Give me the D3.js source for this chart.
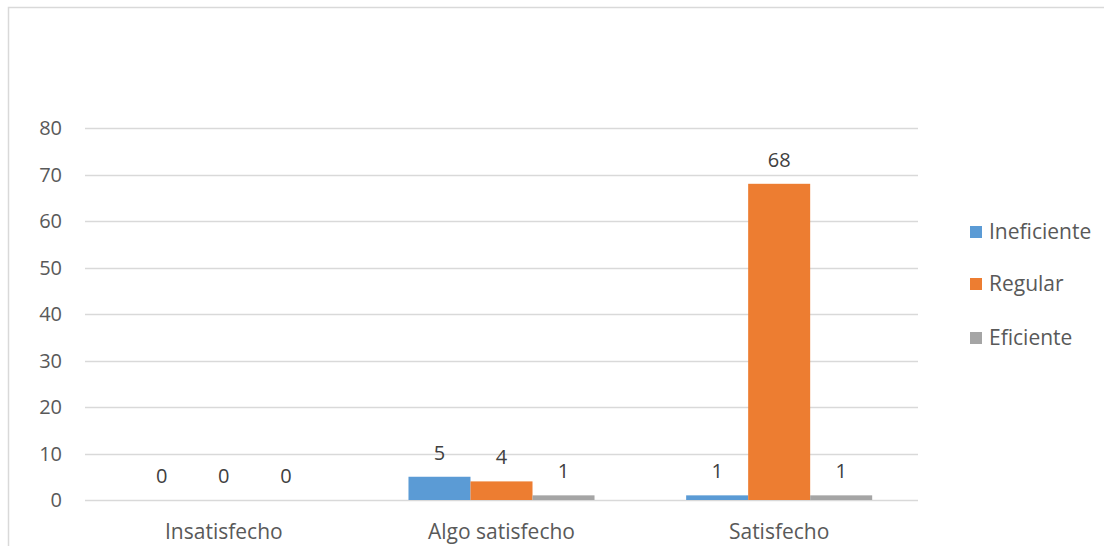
<!DOCTYPE html>
<html><head><meta charset="utf-8">
<script src="https://cdn.jsdelivr.net/npm/d3@7"></script>
<style>body{margin:0;background:#fff}svg{display:block}text{font-family:"Open Sans","Liberation Sans",sans-serif}</style>
</head><body>
<script>
const categories = ["Insatisfecho", "Algo satisfecho", "Satisfecho"];
const seriesNames = ["Ineficiente", "Regular", "Eficiente"];
const ineficiente = [0, 5, 1];
const regular = [0, 4, 68];
const eficiente = [0, 1, 1];
const yTicks = [0, 10, 20, 30, 40, 50, 60, 70, 80];
const colors = ["#5b9bd5", "#ed7d31", "#a5a5a5"];

(function () {
const seriesValues = [ineficiente, regular, eficiente];
const W = 1104, H = 546;
const svg = d3.select("body").append("svg").attr("width", W).attr("height", H);

// chart border
svg.append("path").attr("d", `M8.5,${H} V7.5 H${W}`).attr("fill", "none")
  .attr("stroke", "#d9d9d9").attr("stroke-width", 1.5);

const pLeft = 85, pRight = 918, pTop = 128, pBottom = 500;
const y = d3.scaleLinear().domain([0, 80]).range([pBottom, pTop]);
const x0 = d3.scaleBand().domain(categories).range([pLeft, pRight]).padding(0);
const bw = x0.bandwidth();
const x1 = d3.scaleBand().domain(seriesNames).range([bw * 0.165, bw * 0.835]).padding(0);

// gridlines
svg.append("g").selectAll("line").data(yTicks).join("line")
  .attr("x1", pLeft).attr("x2", pRight)
  .attr("y1", d => Math.round(y(d)) + 0.5).attr("y2", d => Math.round(y(d)) + 0.5)
  .attr("stroke", "#d9d9d9").attr("stroke-width", 1.3);

// y tick labels
svg.append("g").selectAll("text").data(yTicks).join("text")
  .attr("x", 62).attr("y", d => y(d)).attr("dy", "0.35em")
  .attr("text-anchor", "end").attr("font-size", 20).attr("fill", "#595959")
  .text(d => d);

// bars
const groups = svg.append("g").selectAll("g").data(categories).join("g")
  .attr("transform", c => `translate(${x0(c)},0)`);
groups.each(function(c, ci) {
  const g = d3.select(this);
  seriesNames.forEach((s, si) => {
    const v = seriesValues[si][ci];
    g.append("rect").attr("x", x1(s)).attr("width", x1.bandwidth())
      .attr("y", y(v)).attr("height", pBottom - y(v)).attr("fill", colors[si]);
    g.append("text").attr("x", x1(s) + x1.bandwidth() / 2).attr("y", y(v) - 17)
      .attr("text-anchor", "middle").attr("font-size", 20).attr("fill", "#404040")
      .text(v);
  });
});

// category labels
svg.append("g").selectAll("text").data(categories).join("text")
  .attr("x", c => x0(c) + bw / 2).attr("y", 532).attr("dy", "0.35em")
  .attr("text-anchor", "middle").attr("font-size", 21).attr("fill", "#595959")
  .text(c => c);

// legend
const legY = [232, 284, 338];
const leg = svg.append("g").selectAll("g").data(seriesNames).join("g")
  .attr("transform", (s, i) => `translate(970,${legY[i]})`);
leg.append("rect").attr("x", 0).attr("y", -6).attr("width", 12).attr("height", 12)
  .attr("fill", (s, i) => colors[i]);
leg.append("text").attr("x", 19).attr("y", 0).attr("dy", "0.35em")
  .attr("font-size", 21).attr("fill", "#595959").text(s => s);
})();
</script>
</body></html>
